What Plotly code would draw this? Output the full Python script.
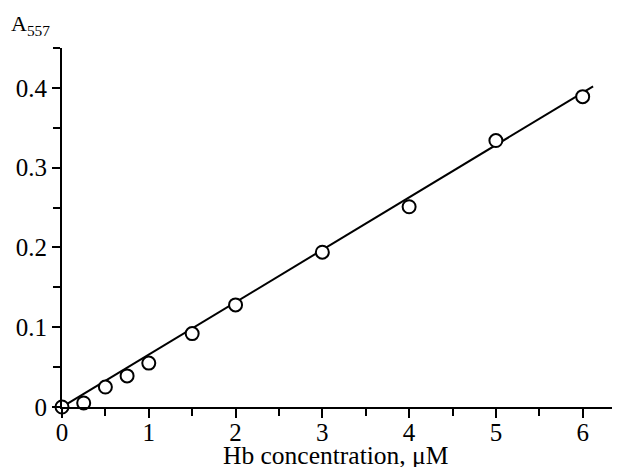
import plotly.graph_objects as go

conc = [0, 0.25, 0.5, 0.75, 1, 1.5, 2, 3, 4, 5, 6]
absorb = [0.0, 0.005, 0.025, 0.039, 0.055, 0.092, 0.128, 0.194, 0.251, 0.334, 0.389]
fit_x = [0, 6.12]
fit_y = [0, 0.402]
x_ticks = [0, 1, 2, 3, 4, 5, 6]
y_ticks = [0, 0.1, 0.2, 0.3, 0.4]
y_tick_text = ["0", "0.1", "0.2", "0.3", "0.4"]

fig = go.Figure()
fig.add_trace(go.Scatter(x=fit_x, y=fit_y, mode="lines",
                         line=dict(color="black", width=2), cliponaxis=False))
fig.add_trace(go.Scatter(x=conc, y=absorb, mode="markers", cliponaxis=False,
                         marker=dict(symbol="circle", size=13, color="white",
                                     line=dict(color="black", width=2))))

family = "Liberation Serif, Times New Roman, serif"
tick_font = dict(family=family, size=25, color="black")
title_font = dict(family=family, size=25.5, color="black")
a_font = dict(family=family, size=22, color="black")

fig.update_layout(
    width=612, height=459,
    margin=dict(l=54, r=0, t=40, b=60),
    paper_bgcolor="white", plot_bgcolor="white",
    showlegend=False,
    font=tick_font,
    xaxis=dict(range=[0, 6.43], showgrid=False, zeroline=False, automargin=False,
               showline=True, linecolor="black", linewidth=2,
               ticks="outside", tickvals=x_ticks, ticklen=9, tickwidth=2, tickcolor="black",
               minor=dict(dtick=0.5, tick0=0, ticks="outside", ticklen=7, tickwidth=2, tickcolor="black"),
               tickfont=tick_font, ticklabelstandoff=-7),
    yaxis=dict(range=[0, 0.45], showgrid=False, zeroline=False, automargin=False,
               showline=True, linecolor="black", linewidth=2,
               ticks="outside", tickvals=y_ticks, ticktext=y_tick_text,
               ticklen=8, tickwidth=2, tickcolor="black",
               minor=dict(dtick=0.05, tick0=0, ticks="outside", ticklen=7, tickwidth=2, tickcolor="black"),
               tickfont=tick_font),
    annotations=[
        dict(text="A<sub>557</sub>", x=-0.095, y=1.11, xref="paper", yref="paper",
             xanchor="left", yanchor="top", showarrow=False, font=a_font),
        dict(text="Hb concentration, μM", x=0.49, y=-0.134, xref="paper", yref="paper",
             xanchor="center", yanchor="middle", showarrow=False, font=title_font),
    ],
)

fig.write_html("out.html")
